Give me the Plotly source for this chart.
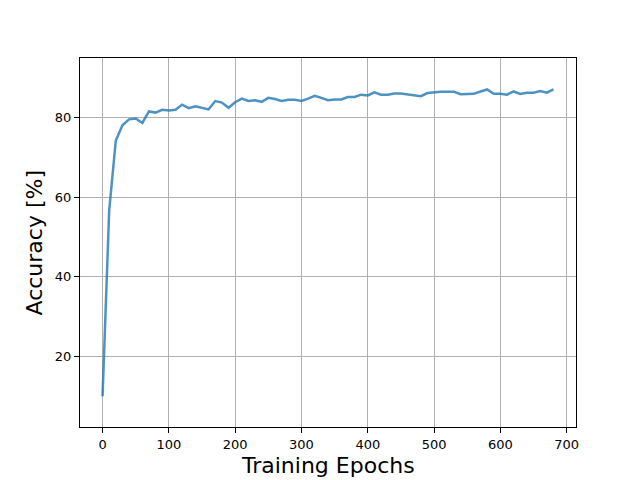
import plotly.graph_objects as go

epochs = list(range(0, 690, 10))
accuracy = [
    10.0, 56.6, 74.2, 78.0, 79.5, 79.7, 78.6, 81.5, 81.2, 81.9,
    81.7, 81.9, 83.2, 82.3, 82.8, 82.4, 82.0, 84.1, 83.7, 82.4,
    83.8, 84.7, 84.1, 84.3, 83.9, 84.9, 84.6, 84.1, 84.4, 84.4,
    84.1, 84.7, 85.4, 84.9, 84.3, 84.5, 84.5, 85.1, 85.1, 85.7,
    85.5, 86.3, 85.7, 85.7, 86.0, 86.0, 85.8, 85.5, 85.3, 86.1,
    86.3, 86.4, 86.4, 86.4, 85.8, 85.8, 85.9, 86.5, 87.0, 85.9,
    85.9, 85.7, 86.5, 85.9, 86.2, 86.2, 86.6, 86.2, 87.0,
]
x_ticks = [0, 100, 200, 300, 400, 500, 600, 700]
y_ticks = [20, 40, 60, 80]
x_label = "Training Epochs"
y_label = "Accuracy [%]"

fig = go.Figure()
fig.add_trace(go.Scatter(
    x=epochs, y=accuracy, mode="lines",
    line=dict(color="rgba(31,119,180,0.8)", width=2.5),
    showlegend=False,
))

axis_common = dict(
    showline=True, mirror=True, linecolor="black", linewidth=1,
    ticks="outside", ticklen=5, tickwidth=1, tickcolor="black",
    showgrid=True, gridcolor="#b0b0b0", gridwidth=1,
    zeroline=False, automargin=False,
    tickfont=dict(family="DejaVu Sans", size=13, color="black"),
)

title_font = dict(family="DejaVu Sans", size=22, color="black")

# the page body has an 8px margin, so the figure is offset by 8px
fig.update_layout(
    width=632, height=472,
    margin=dict(l=72, r=64, t=50, b=53),
    paper_bgcolor="white", plot_bgcolor="white",
    xaxis=dict(range=[-34, 714], tickvals=x_ticks, **axis_common),
    yaxis=dict(range=[2.3, 94.9], tickvals=y_ticks, **axis_common),
    annotations=[
        dict(text=x_label, xref="paper", yref="paper", x=0.5, y=0,
             xanchor="center", yanchor="middle", yshift=-38,
             showarrow=False, font=title_font),
        dict(text=y_label, xref="paper", yref="paper", x=0, y=0.5,
             xanchor="center", yanchor="middle", xshift=-46, textangle=-90,
             showarrow=False, font=title_font),
    ],
)

fig.write_html("out.html")
